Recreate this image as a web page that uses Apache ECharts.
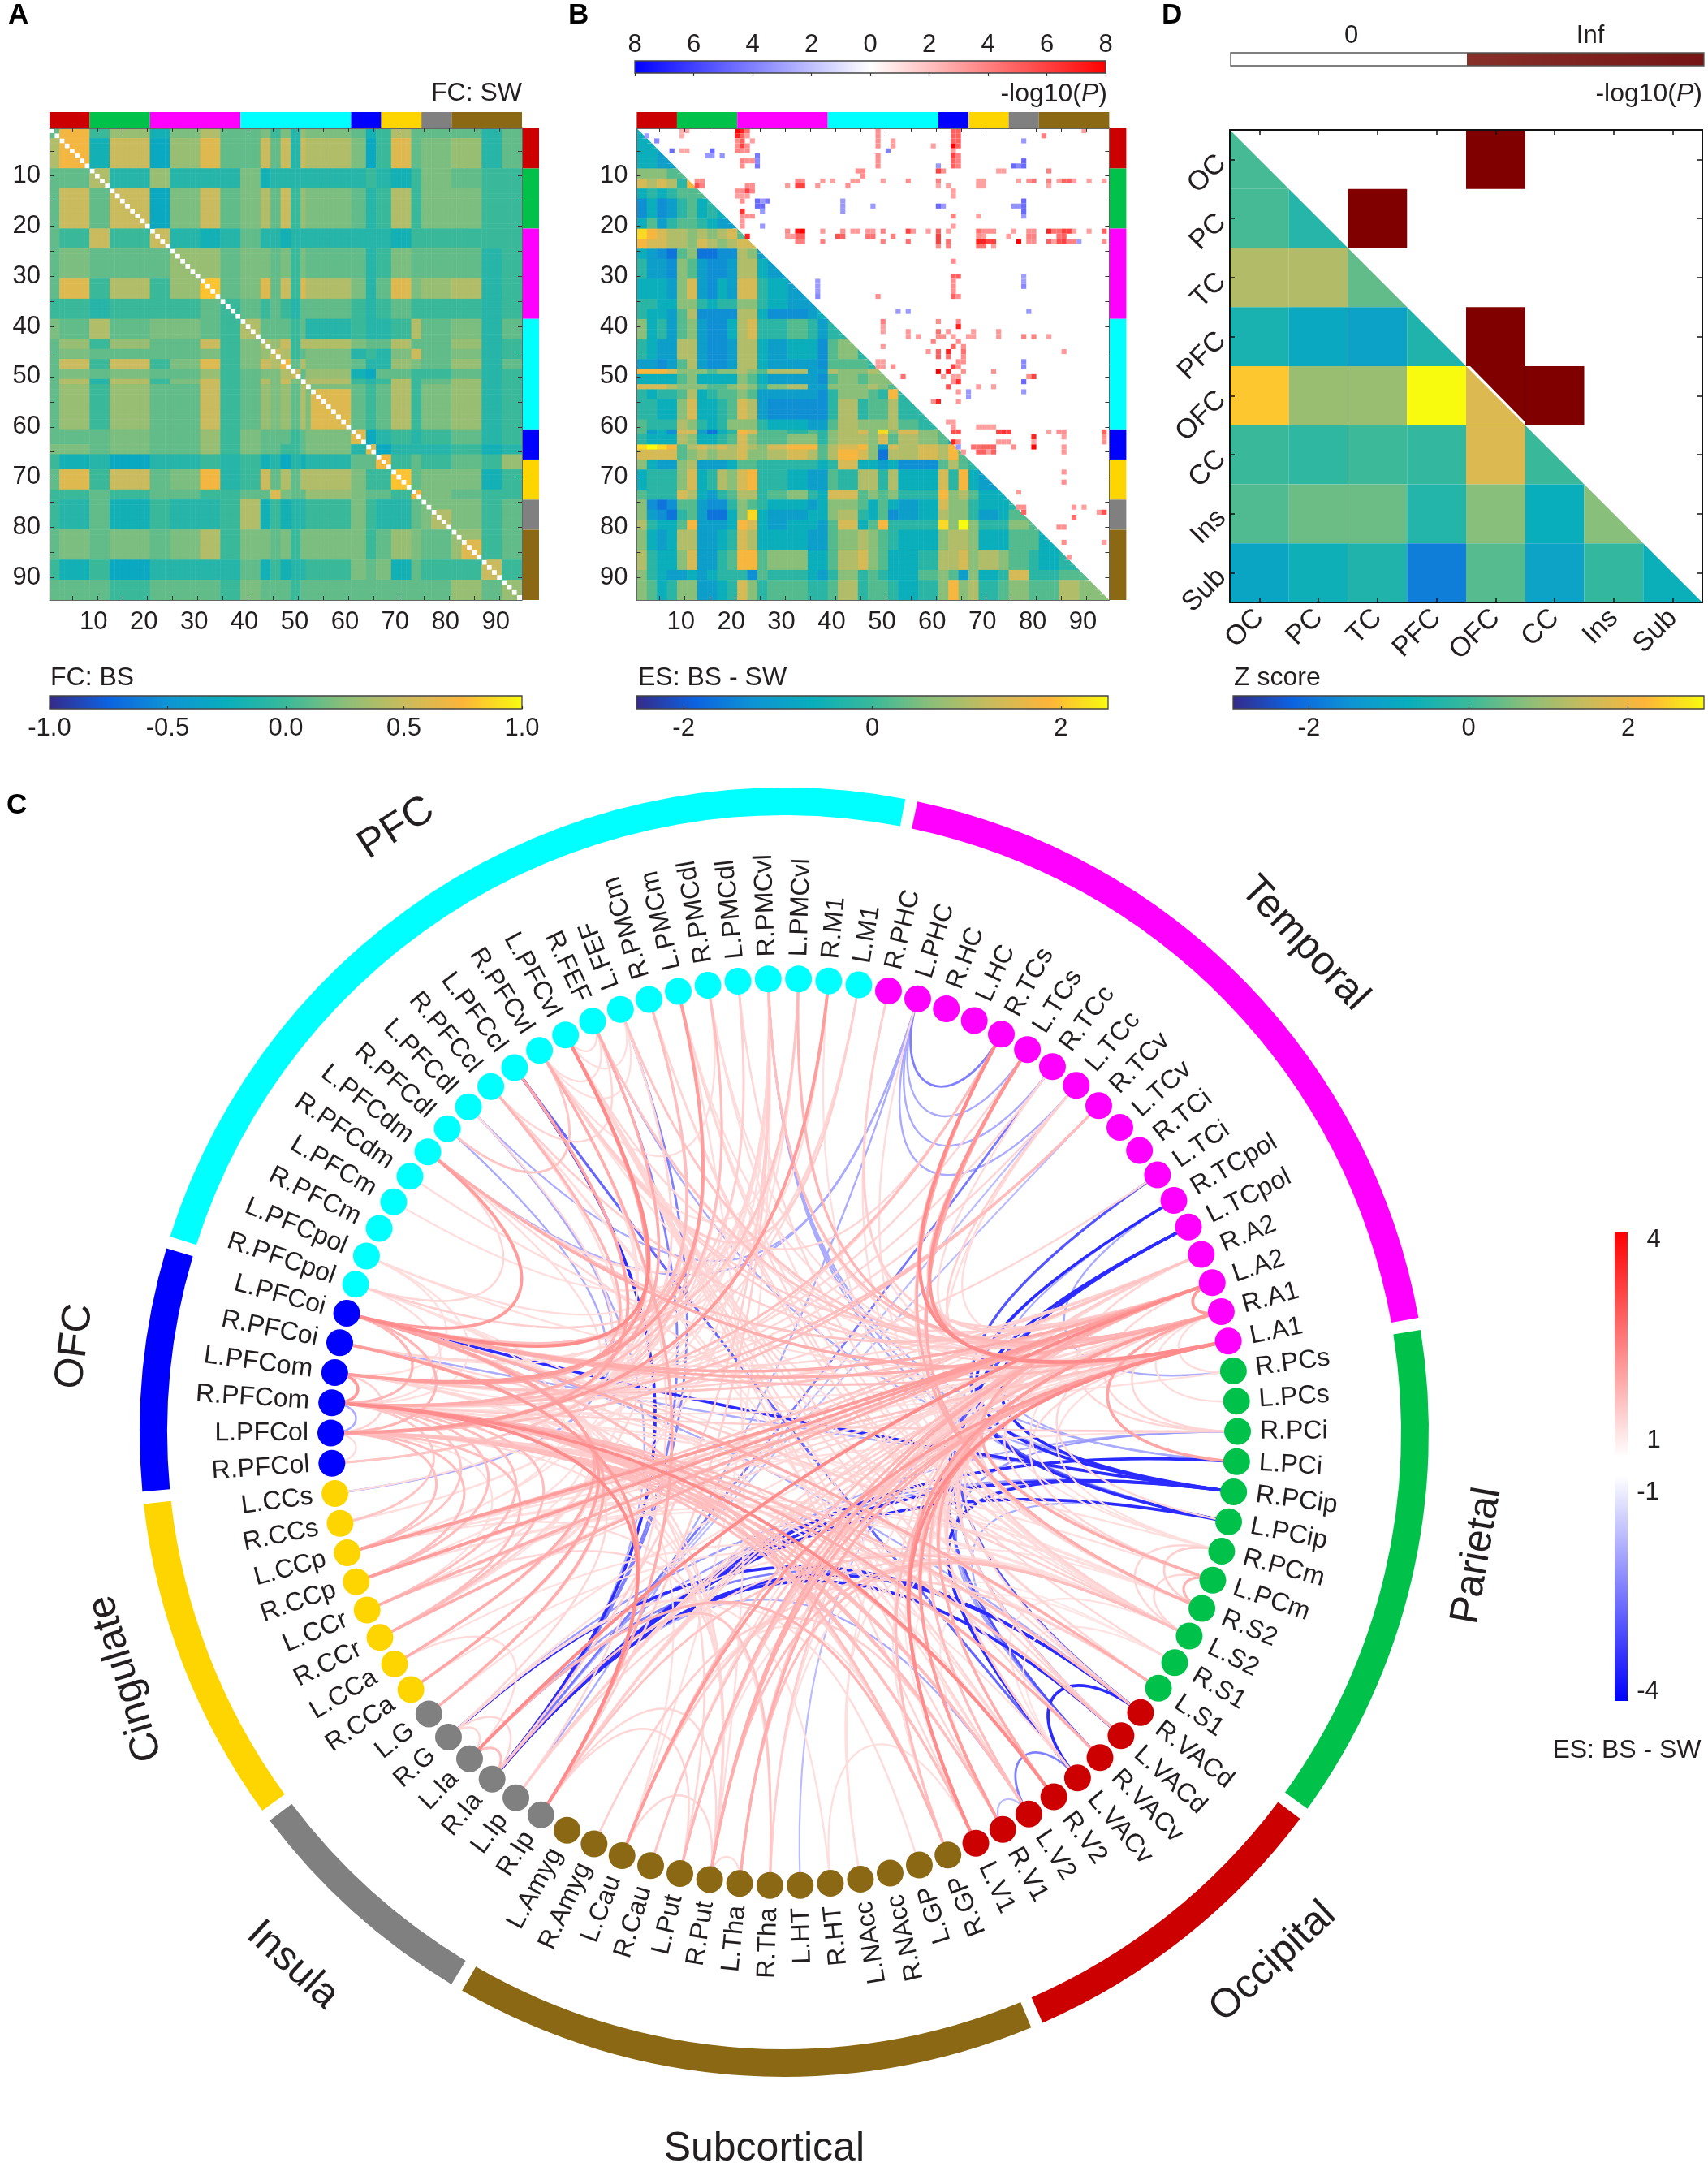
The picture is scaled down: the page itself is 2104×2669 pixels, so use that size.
<!DOCTYPE html>
<html><head><meta charset="utf-8">
<style>html,body{margin:0;background:#fff}#c{width:2104px;height:2669px}</style>
<script src="https://cdn.jsdelivr.net/npm/echarts@6/dist/echarts.min.js"></script>
</head><body><div id="c"></div>
<script>
// ---------- DATA ----------
const groupNames=['Occipital','Parietal','Temporal','PFC','OFC','Cingulate','Insula','Subcortical'];
const groupSizes=[8,12,18,22,6,8,6,14];
const groupColors=['#CC0000','#00C24B','#FF00FF','#00FFFF','#0000FF','#FFD500','#808080','#8B6914'];
const regionNames=['L.V1','R.V1','L.V2','R.V2','L.VACv','R.VACv','L.VACd','R.VACd',
'L.S1','R.S1','L.S2','R.S2','L.PCm','R.PCm','L.PCip','R.PCip','L.PCi','R.PCi','L.PCs','R.PCs',
'L.A1','R.A1','L.A2','R.A2','L.TCpol','R.TCpol','L.TCi','R.TCi','L.TCv','R.TCv','L.TCc','R.TCc','L.TCs','R.TCs','L.HC','R.HC','L.PHC','R.PHC',
'L.M1','R.M1','L.PMCvl','R.PMCvl','L.PMCdl','R.PMCdl','L.PMCm','R.PMCm','L.FEF','R.FEF','L.PFCvl','R.PFCvl','L.PFCcl','R.PFCcl','L.PFCdl','R.PFCdl','L.PFCdm','R.PFCdm','L.PFCm','R.PFCm','L.PFCpol','R.PFCpol',
'L.PFCoi','R.PFCoi','L.PFCom','R.PFCom','L.PFCol','R.PFCol',
'L.CCs','R.CCs','L.CCp','R.CCp','L.CCr','R.CCr','L.CCa','R.CCa',
'L.G','R.G','L.Ia','R.Ia','L.Ip','R.Ip',
'L.Amyg','R.Amyg','L.Cau','R.Cau','L.Put','R.Put','L.Tha','R.Tha','L.HT','R.HT','L.NAcc','R.NAcc','L.GP','R.GP'];
const groupLabelTheta=[-47.3,-10.1,43.2,122.7,173.1,200.5,227.3,-91.6];
const groupLabelRadius=[888,867,879,884,880,866,893,884];
const groupLabelRotation=[43,80,-46.8,32.7,83,107,-42.7,0];

// Panel A: FC levels read per band of the matrix
const fcLevels={a:-.3,b:-.2,c:-.1,d:0,e:.12,f:.2,g:.3,h:.4,i:.5,j:.6,k:.7,l:.8,m:.9};
const fcEdges=[0,2,8,12,20,24,30,34,38,42,44,46,48,50,51,60,63,65,68,72,74,80,86,90,94];
const fcRows=[
'e k d g b f h e e f d f c g f e b d h e e e c e',
'h k b i a g j e e i e i c i h f a d j e f g c e',
'e e h c g c c c f b c c c c c c d c b d f e d d',
'e i e i a f i e f h e i d g f e c d h d f f d d',
'e d i d i c b c e c c b c c c c c c b d d d d d',
'e f e e e g g e f f e f d f e e c d f e e e c d',
'e j d h d g l e f j e i d j h f c e j f g h c d',
'd d c d d d e d e d e d c e e d c d e d d d c d',
'f e h e f f e d h e e e d e c d c c d h e f c e',
'e g d g e e i d f h g i d h h f e e h e e g c d',
'e f e e e e f d f g i h d e f c d c f i e f c d',
'e i d i d f j d f i h k e h f e c c g f e g c e',
'e f e f e e g d e f f h i e g b a e e d d e c d',
'e h c h d f i d e h f i f k h d c d h d e g c d',
'e g d g e e i d e g f g e h f e d e h d f g c d',
'e e e f e e g d f e e e d e f j a c d c d e c d',
'f f e f e e g d f e e d d e f c j a c c c d b c',
'd b c a c c d c d b c a c b c e e k d e d e d g',
'e j d i e f k c d i e h e h h f d d l e f f b d',
'd d e d e e d d e e j f e e g f e e d k f e d d',
'd c e b d c c d h b d b c c d f d c c e f f d e',
'e f e f e f h d f f e f d f f f d e g f e g d e',
'd b d a c c c c e b d b c c d f e f b e d d i d',
'e e e d e e e d f e e e d e e e e e e e e g e g'];
// warm runs hugging the diagonal: first region, last region, level
const fcDiagonalRuns=[[52,60,'j'],[76,80,'h'],[82,86,'j']];

// Panel B lower triangle: ES levels read per band
const esLevels={a:-1.65,b:-1.3,c:-1,d:-.6,e:-.2,f:.2,g:.6,h:1,i:1.4,j:1.8,k:2.2,l:2.5};
const esRowEdges=[0,8,10,12,14,18,20,22,24,26,30,34,36,38,42,46,48,49,51,52,54,58,60,61,63,64,66,68,72,74,76,78,80,84,88,90,94];
const esColEdges=[0,2,4,6,8,10,12,14,16,18,20,22,24,26,30,34,36,38,40,44,46,48,50,52,56,60,62,64,66,68,72,74,78,80,84,88,94];
const esRows=[
'd d c c','g g g f f','i h i h e j','d e d e f f f','b d b c e f d e d','d f c e f f e d c c',
'k j i h h g h g h i f','j i i h h g i h g h i i','d c b a f g a a b b h g c','e c c b g f c b b c h h d c',
'd d d c g i c b d c i i e d c','e e d d g g e d e e g g e d c c','e d d c f h b b b b h h d b b c d',
'g d e c f g c b b d h i e e f e c e e','e d c c h h c b b c h h d c d d b f g e',
'c c b c f h c b b c h h d c c c b f f f e','j j j i g g g f g g h g f h h c c h g g h g',
'd d d d f g d d d d g f d c c c b f g f g g','i i i h g g g f f g h g e g h c c g g g h g f',
'e d e e f h d e f f g f c c c c b e g g f e j e','e e d d g i d d e f i h c b b b b e h e f f h e e',
'f e e e h g e d e g g g e d d c c f h g g g h f e','f c d b i i c a d e j i f f e f e g h i g k g i g f',
'e d d d h g d d e f i g f f g g e g h h g i f h g f d','k l k j f h i h i h i h g i j j f h i j g c i h i h j h',
'i i i i f g h g h h i g g h i h f h j i g a h h i h j f','g d c c g h c c c d f f e e e e d e i d d c d b b f h f e',
'd e e e g i d e h g i j e e d c c f e h h e h d d i e j d c','f e e e i h d c e f h h e f g e d i i f g f g e e j g h f d d',
'g b a b f f c b b e g f e d d c d g g f d f d c d i g g e d d e','g c b a e f c a a d g k d c c d d g h e d f b c d h g g e c d f',
'h e d d f j c c c d j i d c d d c f i d f j e e e k g l g e e g f','g d c d h h c c d e i h d d d c c f g h g f e d d g h h g d d f f d',
'h e d d g i c c e f j j f g g d d f h i g f d d e h h i g h g f e d e','g e d c c d c d e e e b f e e d c e g e f e d d f g f c g d e i e e f f',
'g f d e g g c c d e i g e f f e e f h e f f e d e g j g h e f g f f h g'];

// Panel B upper triangle and panel C links: row -> column,signed -log10(P) pairs
const sigRows={
0:[9,2.5,10,2.5,20,8,21,7,22,4.5,48,3.5,63,5,64,5,89,3],
1:[2,-1.8,9,2.5,20,7,21,5,22,3,48,3.5,63,5,64,5,81,4],
2:[4,-2.5,20,3.5,21,5,23,3,48,3.5,51,3,63,5,64,5,77,-2],
3:[20,3.5,21,6,22,3.5,48,3.5,51,3,59,3,63,8,64,5],
4:[7,-3.5,9,2.8,10,2.8,15,-3.5,20,4,21,3.5,22,3.5,50,-2.8,63,3],
5:[14,-2,15,-2,17,-2.2,24,-3,48,3.5,63,6,64,4],
6:[21,4,22,3.5,23,3.5,24,-2.5,48,3.5,63,5,64,4,77,-3.5],
7:[21,3.5,24,-3,48,3.5,60,-2,63,5,64,4,75,-3.5,76,-2.5,77,-3.5],
8:[44,3.5,45,3.5,60,6,61,3.5,72,3,73,3,82,4],
9:[45,3.5],
10:[12,3.5,13,3.5,32,3.8,33,3.5,37,3.2,39,3,43,3.2,44,3.2,49,3,54,3.5,60,4,68,3,69,3,76,3,78,3.5,79,4.5,82,4,84,3,85,5,86,5,87,3,90,3,93,3],
11:[12,5.5,13,4,22,3.5,23,3.5,30,3.2,32,6,33,6,36,3.2,42,3.5,60,2.8,62,3,68,3,69,3,82,2.8],
12:[20,3.5,21,3.5,22,6,23,4,63,3],
13:[20,3,21,3,22,3,63,3],
14:[21,3.5,24,-3.5,25,-2,26,-3,41,-2,77,-3.5],
15:[24,-3.5,25,-3.5,41,-2,47,-2,60,-3.5,61,-2,75,-2.2,76,-2.2,77,-3.5],
16:[21,6.5,25,-2,41,-2,77,-3.5],
17:[21,3.5,22,3.5,23,3.5,63,4,68,3,77,-2],
18:[21,3.2],
19:[21,3.2,25,-2,63,3],
20:[30,3.8,32,7.5,33,8,37,3.2,41,3.5,43,3.2,44,3.2,46,3.2,47,3.2,49,4,54,6,55,3.2,58,3,60,5,62,3,68,4.5,69,3.5,70,3.5,71,3.5,75,3,78,3.5,79,3.5,82,7,83,4.5,84,4.5,85,6,86,6,87,3,90,3,93,5],
21:[22,7,30,3.2,31,3.2,32,5,33,5,40,5.5,41,5,46,4.5,47,4.5,51,4,60,6,68,3.5,69,3,74,3,78,4,79,4,84,4.5,85,5],
22:[32,4,33,4,37,4,49,4,54,4.5,60,6,62,4.5,68,7,69,7,70,6,71,6,76,8,78,3.5,79,3.5,82,5,83,3,84,5.5,85,6,86,4,87,4,88,-1.8,93,3.5],
23:[60,3.5,62,4,68,4.5,69,4.5,71,3],
26:[63,3.5],
29:[63,5,64,5,77,-1.8],
30:[36,-2,63,3.5,77,-1.8],
31:[36,-2,63,3.5,77,-2.6],
32:[36,-2,63,3.5],
33:[36,-2.5,48,3.5,63,5,64,3.5],
36:[52,-2,54,-2,78,-2],
38:[49,4,60,3.5,64,3.5],
39:[49,3,64,7],
40:[49,3,54,3.2,60,4.5,62,3.2,67,3,72,3.2],
41:[54,3.2,56,3,60,3.5,61,3.5,63,3,66,3,67,3,72,3.2,77,4,79,4,82,3],
42:[59,4,64,3.5],
43:[49,3.2,63,5,65,3.5],
44:[58,3.2,60,5,62,7,65,4.5,85,3.2],
45:[60,5,62,4.5,65,3.5],
46:[48,3,49,3,64,3.5,65,3.5,77,-2.5],
47:[48,3.2,49,3.2,51,3.5,63,6,64,3.5,77,-2.5],
48:[60,8,62,7,65,3.5,71,3.5],
49:[53,4.5,61,3,63,3,64,3,78,3.5,79,6],
50:[63,3.5,64,6.5,77,-3.5],
51:[62,5.5,68,3,71,3],
52:[64,3.2,66,-2,77,-2],
53:[66,-2],
54:[59,3.5,60,7,64,3.2],
58:[62,3,63,3],
59:[63,3.2,68,3,69,3,70,3,71,3],
60:[63,5.5,64,5.5,72,6,73,6.5,74,6,82,3,84,3.5,85,3.5,93,5],
61:[79,7,85,3,93,3.5],
62:[63,7,64,3.8,72,3.2,73,3.2,74,3.2,79,3,93,3.5],
63:[64,-2,67,4.5,68,4.5,69,5,70,5,71,5,75,3.5,79,8,85,3.2],
64:[65,3.2,68,5,69,5,70,3,71,5,85,3.2],
68:[85,3.2],70:[85,3.5],72:[76,3.2],
75:[76,3.5,77,3.5,87,3.2,89,3],
76:[77,5,92,3.2,93,5.5],
77:[87,4.5],79:[84,3.5,85,3.5],82:[85,3.5,93,3],85:[86,3.2]};

// Panel D
const lobeLabels=['OC','PC','TC','PFC','OFC','CC','Ins','Sub'];
const zRows=[[.1],[.1,-.3],[1.2,1.2,.35],[-.5,-.9,-1.1,-.4],[2.4,.9,.9,3,1.75],[0,-.15,.02,-.1,1.75,0],[.2,.45,.45,-.35,.7,-.75,.7],[-1,-.65,-.4,-1.8,.25,-1.05,-.1,-.7]];
const zSignificant=[[0,4],[1,2],[3,4],[4,5]];
const zSignificantDiagonal=[[4,4]];

const cbFC={min:-1,max:1,ticks:[-1,-.5,0,.5,1]};
const cbES={min:-2.5,max:2.5,ticks:[-2,0,2]};
const cbZ={min:-2.95,max:2.95,ticks:[-2,0,2]};
const cbP={min:-8,max:8,ticks:[-8,-6,-4,-2,0,2,4,6,8]};

// ---------- HELPERS ----------
const FONT='"Liberation Sans",Arial,sans-serif', INK='#231F20';
const parula=['#352A87','#0D62E0','#0F94D3','#09AEBC','#3AB99A','#8CBF78','#C9BB5E','#FDB53A','#F9FB0E'];
const hex=c=>[1,3,5].map(i=>parseInt(c.substr(i,2),16));
function mix(a,b,t){const A=hex(a),B=hex(b);return 'rgb('+A.map((v,i)=>Math.round(v+(B[i]-v)*t)).join(',')+')';}
function parulaAt(t){t=Math.max(0,Math.min(1,t))*8;const i=Math.min(7,Math.floor(t));return mix(parula[i],parula[i+1],t-i);}
const pColor=v=>v>0?mix('#FFFFFF','#FF0000',Math.min(1,v/8)):mix('#FFFFFF','#0000FF',Math.min(1,-v/8+.15));
function linkColor(v){ if(v>0){return mix('#FFFFFF','#FF0000',Math.min(.47,.13+(v-3)*.064));} return mix('#FFFFFF','#0000FF',Math.min(1,(-v-1)/3));}
function bandOf(edges,i){let b=0;while(b+1<edges.length-1&&i>=edges[b+1])b++;return b;}
function cellLevel(table,rowEdges,colEdges,map,r,c){const t=table[bandOf(rowEdges,r)].split(' ');const b=bandOf(colEdges,c);return map[t[Math.min(b,t.length-1)]];}
const grad=(x2,y2,stops)=>new echarts.graphic.LinearGradient(0,0,x2,y2,stops);

const grids=[],xAxes=[],yAxes=[],series=[];
function addGrid(l,t,w,h,xo,yo){const g=grids.length;grids.push({left:l,top:t,width:w,height:h,containLabel:false});
  xAxes.push(Object.assign({gridIndex:g},xo));yAxes.push(Object.assign({gridIndex:g},yo));return {g,x:xAxes.length-1,y:yAxes.length-1};}
const hiddenVal=(min,max,extra)=>Object.assign({type:'value',show:false,min,max,splitLine:{show:false}},extra||{});
const numbers=Array.from({length:94},(_,i)=>String(i+1));

function matrixGrid(l,t,w,h){
  const lbl={fontFamily:FONT,fontSize:31,color:INK};
  const line={show:true,lineStyle:{color:'#666',width:1}};
  const tick={show:true,inside:true,length:5,alignWithLabel:true,interval:i=>(i+1)%5===0,lineStyle:{color:'#333',width:1}};
  const a=addGrid(l,t,w,h,
   {type:'category',data:numbers,position:'bottom',z:6,axisLine:line,axisTick:tick,splitLine:{show:false},axisLabel:Object.assign({interval:i=>(i+1)%10===0,margin:12,padding:[0,9,0,0]},lbl)},
   {type:'category',data:numbers,inverse:true,position:'left',z:6,axisLine:line,axisTick:tick,splitLine:{show:false},axisLabel:Object.assign({interval:i=>(i+1)%10===0,margin:11,padding:[7,0,0,0]},lbl)});
  xAxes.push({gridIndex:a.g,type:'category',data:numbers,position:'top',z:6,axisLine:line,axisTick:tick,axisLabel:{show:false},splitLine:{show:false}});
  yAxes.push({gridIndex:a.g,type:'category',data:numbers,inverse:true,position:'right',z:6,axisLine:line,axisTick:tick,axisLabel:{show:false},splitLine:{show:false}});
  return a;
}
function groupBars(l,t,w,h,vertical){
  const a=addGrid(l,t,w,h,hiddenVal(0,vertical?1:94),hiddenVal(0,vertical?94:1,{inverse:!!vertical}));
  let s=0;const data=groupSizes.map((n,i)=>{const d=[s,s+n,i];s+=n;return d;});
  series.push({type:'custom',xAxisIndex:a.x,yAxisIndex:a.y,silent:true,data,encode:{x:vertical?[]:[0,1],y:vertical?[0,1]:[]},
    renderItem(p,api){const A=api.value(0),B=api.value(1);
      const p0=vertical?api.coord([0,A]):api.coord([A,0]),p1=vertical?api.coord([1,B]):api.coord([B,1]);
      return {type:'rect',shape:{x:Math.min(p0[0],p1[0]),y:Math.min(p0[1],p1[1]),width:Math.abs(p1[0]-p0[0]),height:Math.abs(p1[1]-p0[1])},style:{fill:groupColors[api.value(2)]}};}});
}
function colorBar(l,t,w,h,cb,stops,pos,fmt,margin){
  const a=addGrid(l,t,w,h,{type:'value',min:cb.min,max:cb.max,position:pos,z:6,splitLine:{show:false},
     axisLine:{show:false},axisTick:{show:true,inside:true,length:4,customValues:cb.ticks,lineStyle:{color:'#333',width:1.2}},
     axisLabel:{customValues:cb.ticks,formatter:fmt,fontFamily:FONT,fontSize:31,color:INK,margin:margin,showMinLabel:true,showMaxLabel:true}},hiddenVal(0,1));
  series.push({type:'custom',xAxisIndex:a.x,yAxisIndex:a.y,silent:true,data:[[cb.min,0,cb.max,1]],
    renderItem(p,api){const p0=api.coord([api.value(0),0]),p1=api.coord([api.value(2),1]);
      return {type:'rect',shape:{x:p0[0],y:p1[1],width:p1[0]-p0[0],height:p0[1]-p1[1]},style:{fill:grad(1,0,stops),stroke:'#444',lineWidth:1.3}};}});
}
const parulaStops=parula.map((c,i)=>({offset:i/8,color:c}));

// ---------- PANEL A ----------
const A=matrixGrid(61,158,582,581);
const fcData=[];
for(let r=0;r<94;r++)for(let c=0;c<94;c++){ if(r===c)continue;
  let v=cellLevel(fcRows,fcEdges,fcEdges,fcLevels,r,c);
  fcDiagonalRuns.forEach(([a,b,l])=>{if(r>=a&&r<b&&c>=a&&c<b)v=fcLevels[l];});
  fcData.push([c,r,v]);}
const heatIndex=series.length;
series.push({type:'heatmap',xAxisIndex:A.x,yAxisIndex:A.y,data:fcData,silent:true,progressive:0,emphasis:{disabled:true}});
groupBars(61,138,582,20,false);groupBars(643,158,21,581,true);
colorBar(61,857,582,16,cbFC,parulaStops,'bottom',v=>v.toFixed(1),9);

// ---------- PANEL B ----------
const B=matrixGrid(784.4,158,582,581);
const esData=[];
for(let r=0;r<94;r++)for(let c=0;c<=r;c++)esData.push([c,r,cellLevel(esRows,esRowEdges,esColEdges,esLevels,r,c),r===c?1:0]);
Object.keys(sigRows).forEach(r=>{const a=sigRows[r];for(let i=0;i<a.length;i+=2)esData.push([a[i],+r,a[i+1],2]);});
series.push({type:'custom',xAxisIndex:B.x,yAxisIndex:B.y,silent:true,data:esData,
  renderItem(p,api){const k=api.value(3),v=api.value(2),ct=api.coord([api.value(0),api.value(1)]),s=api.size([1,1]);
    const x=ct[0]-s[0]/2,y=ct[1]-s[1]/2;
    if(k===2)return {type:'rect',shape:{x:x-s[0]/2,y,width:s[0],height:s[1]},style:{fill:pColor(v)}};
    const fill=parulaAt((v+2.5)/5);
    if(k===1)return {type:'polygon',shape:{points:[[x,y],[x+s[0],y+s[1]],[x,y+s[1]]]},style:{fill}};
    return {type:'rect',shape:{x,y,width:s[0]+.5,height:s[1]+.5},style:{fill}};}});
groupBars(784.4,138,582,20,false);groupBars(1366.4,158,21,581,true);
colorBar(782,75,580,15,cbP,[{offset:0,color:'#0000FF'},{offset:.5,color:'#FFFFFF'},{offset:1,color:'#FF0000'}],'top',v=>String(Math.abs(v)),4);
colorBar(784,857,581,16,cbES,parulaStops,'bottom',v=>String(v),9);

// ---------- PANEL D ----------
const dLine={show:true,lineStyle:{color:'#111',width:2}},dTick={show:true,inside:true,length:6,alignWithLabel:true,lineStyle:{color:'#111',width:1.5}};
const dLbl={fontFamily:FONT,fontSize:34,color:INK,rotate:45};
const D=addGrid(1515,160,582,582,
  {type:'category',data:lobeLabels,position:'bottom',z:6,axisLine:dLine,axisTick:dTick,splitLine:{show:false},axisLabel:Object.assign({margin:14,interval:0},dLbl)},
  {type:'category',data:lobeLabels,inverse:true,position:'left',z:6,axisLine:dLine,axisTick:dTick,splitLine:{show:false},axisLabel:Object.assign({margin:10,interval:0},dLbl)});
xAxes.push({gridIndex:D.g,type:'category',data:lobeLabels,position:'top',z:6,axisLine:dLine,axisTick:dTick,axisLabel:{show:false},splitLine:{show:false}});
yAxes.push({gridIndex:D.g,type:'category',data:lobeLabels,inverse:true,position:'right',z:6,axisLine:dLine,axisTick:dTick,axisLabel:{show:false},splitLine:{show:false}});
const zData=[];
zRows.forEach((row,r)=>row.forEach((z,c)=>zData.push([c,r,z,r===c?1:0])));
zSignificant.forEach(([r,c])=>zData.push([c,r,0,2]));
zSignificantDiagonal.forEach(([r,c])=>zData.push([c,r,0,3]));
series.push({type:'custom',xAxisIndex:D.x,yAxisIndex:D.y,silent:true,data:zData,
  renderItem(p,api){const k=api.value(3),ct=api.coord([api.value(0),api.value(1)]),s=api.size([1,1]);
    const x=ct[0]-s[0]/2,y=ct[1]-s[1]/2,w=s[0],h=s[1];
    const fill=k>=2?'#800000':parulaAt((api.value(2)+2.95)/5.9);
    if(k===1)return {type:'polygon',shape:{points:[[x,y],[x+w,y+h],[x,y+h]]},style:{fill}};
    if(k===3)return {type:'polygon',shape:{points:[[x+5,y],[x+w,y],[x+w,y+h-4]]},style:{fill}};
    return {type:'rect',shape:{x,y,width:w,height:h},style:{fill}};}});
{const a=addGrid(1516,65,583,16,{type:'value',min:0,max:2,position:'top',splitLine:{show:false},axisLine:{show:false},axisTick:{show:false},
   axisLabel:{customValues:[.51,1.52],formatter:v=>v<1?'0':'Inf',fontFamily:FONT,fontSize:31,color:INK,margin:5}},hiddenVal(0,1));
 series.push({type:'custom',xAxisIndex:a.x,yAxisIndex:a.y,silent:true,data:[[0,0,2,1]],
   renderItem(p,api){const p0=api.coord([0,0]),p1=api.coord([2,1]);
     return {type:'rect',shape:{x:p0[0],y:p1[1],width:p1[0]-p0[0],height:p0[1]-p1[1]},
       style:{fill:grad(1,0,[{offset:0,color:'#FFFFFF'},{offset:.5,color:'#FFFFFF'},{offset:.5,color:'#87302A'},{offset:1,color:'#751515'}]),stroke:'#555',lineWidth:1.3}};}});}
colorBar(1519,857,580,16,cbZ,parulaStops,'bottom',v=>String(v),9);

// ---------- PANEL C ----------
const theta0=-65, step=360/94, rNode=558.5, rLabel=586, rOuter=794, rInner=760, gapDeg=.55;
const thetaOf=i=>theta0+i*step;
const polarSeries={coordinateSystem:'polar',polarIndex:0,silent:true};
// ring
{let s=0;const ring=groupSizes.map((n,i)=>{const d=[rOuter,thetaOf(s-.5)+gapDeg,thetaOf(s+n-.5)-gapDeg,i];s+=n;return d;});
 series.push(Object.assign({},polarSeries,{type:'custom',data:ring,
   renderItem(p,api){const c=p.coordSys;const D2R=Math.PI/180;
     return {type:'sector',shape:{cx:c.cx,cy:c.cy,r:rOuter,r0:rInner,startAngle:-api.value(1)*D2R,endAngle:-api.value(2)*D2R,clockwise:false},style:{fill:groupColors[api.value(3)]}};}}));
 series.push(Object.assign({},polarSeries,{type:'custom',data:groupNames.map((n,i)=>[groupLabelRadius[i],groupLabelTheta[i],groupLabelRotation[i]]),
   renderItem(p,api){const pt=api.coord([api.value(0),api.value(1)]);
     return {type:'text',x:pt[0],y:pt[1],rotation:api.value(2)*Math.PI/180,style:{text:groupNames[p.dataIndex],fontFamily:FONT,fontSize:50,fill:INK,align:'center',verticalAlign:'middle'}};}}));}
// links
const links=[];
Object.keys(sigRows).forEach(r=>{const a=sigRows[r];for(let i=0;i<a.length;i+=2)links.push([+r,a[i],a[i+1]]);});
links.sort((p,q)=>{const P=p[2]<0,Q=q[2]<0;if(P!==Q)return P?-1:1;return Math.abs(p[2])-Math.abs(q[2]);});
series.push(Object.assign({},polarSeries,{type:'custom',data:links,encode:{radius:2,angle:0},
  renderItem(p,api){const a=api.value(0),b=api.value(1),v=api.value(2);
    const ta=thetaOf(a),tb=thetaOf(b);let d=Math.abs(ta-tb);if(d>180)d=360-d;
    const k=Math.min(.72,d*.019),rc=rNode*(1-k);
    const P1=api.coord([rNode,ta]),P2=api.coord([rNode,tb]),C1=api.coord([rc,ta]),C2=api.coord([rc,tb]);
    const w=v>0?2.3+Math.min(1.8,(v-3)*.4):2.4+Math.min(1.8,(-v-2)*.9);
    return {type:'bezierCurve',shape:{x1:P1[0],y1:P1[1],x2:P2[0],y2:P2[1],cpx1:C1[0],cpy1:C1[1],cpx2:C2[0],cpy2:C2[1]},style:{fill:null,stroke:linkColor(v),lineWidth:w}};}}));
// nodes
series.push(Object.assign({},polarSeries,{type:'scatter',symbol:'circle',symbolSize:33,z:5,
  data:regionNames.map((n,i)=>{let g=0,s=groupSizes[0];while(i>=s){g++;s+=groupSizes[g];}return {value:[rNode,thetaOf(i)],itemStyle:{color:groupColors[g],opacity:1}};})}));
// node labels
series.push(Object.assign({},polarSeries,{type:'custom',z:5,data:regionNames.map((n,i)=>[rLabel,thetaOf(i)]),
  renderItem(p,api){const i=p.dataIndex,th=api.value(1),pt=api.coord([api.value(0),th]),flip=i>=47;
    return {type:'text',x:pt[0],y:pt[1],rotation:(flip?th-180:th)*Math.PI/180,style:{text:regionNames[i],fontFamily:FONT,fontSize:32,fill:INK,align:flip?'right':'left',verticalAlign:'middle'}};}}));

// ---------- static text ----------
const T=(x,y,text,o)=>({type:'text',x,y,silent:true,style:Object.assign({text,fontFamily:FONT,fontSize:32,fill:INK,align:'left',verticalAlign:'middle'},o||{})});
const logP=(x,y)=>T(x,y,'{a|-log10(}{b|P}{a|)}',{align:'right',rich:{a:{fontFamily:FONT,fontSize:32,fill:INK,color:INK},b:{fontFamily:FONT,fontSize:32,fontStyle:'italic',fill:INK,color:INK}}});
const bold={fontWeight:'bold',fontSize:35,fill:'#000'};
const legendStops=[{offset:0,color:'#FF0000'},{offset:.48,color:'#FFFFFF'},{offset:.52,color:'#FFFFFF'},{offset:1,color:'#0000FF'}];
const graphicEls=[
 T(10,19,'A',bold),T(700,19,'B',bold),T(1431,19,'D',bold),T(8,992,'C',bold),
 T(643,115,'FC: SW',{align:'right'}),T(62,835,'FC: BS'),T(786,835,'ES: BS - SW'),T(1520,835,'Z score'),
 logP(1364,116),logP(2097,116),
 {type:'rect',silent:true,shape:{x:1989,y:1517,width:16,height:578},style:{fill:grad(0,1,legendStops)}},
 T(2037,1527,'4',{align:'center',fontSize:31}),T(2037,1774,'1',{align:'center',fontSize:31}),
 T(2030,1838,'-1',{align:'center',fontSize:31}),T(2030,2083,'-4',{align:'center',fontSize:31}),
 T(2004,2156,'ES: BS - SW',{align:'center'})
];

const chart=echarts.init(document.getElementById('c'),null,{renderer:'canvas',width:2104,height:2669});
chart.setOption({animation:false,backgroundColor:'#fff',textStyle:{fontFamily:FONT},tooltip:{show:false},
  grid:grids,xAxis:xAxes,yAxis:yAxes,
  polar:{center:[966,1764],radius:[0,rOuter]},
  radiusAxis:{show:false,type:'value',min:0,max:rOuter,polarIndex:0},
  angleAxis:{show:false,type:'value',min:0,max:360,startAngle:0,clockwise:false,polarIndex:0},
  visualMap:[{type:'continuous',show:false,seriesIndex:heatIndex,min:-1,max:1,inRange:{color:parula}}],
  graphic:{elements:graphicEls},
  series});
</script></body></html>
